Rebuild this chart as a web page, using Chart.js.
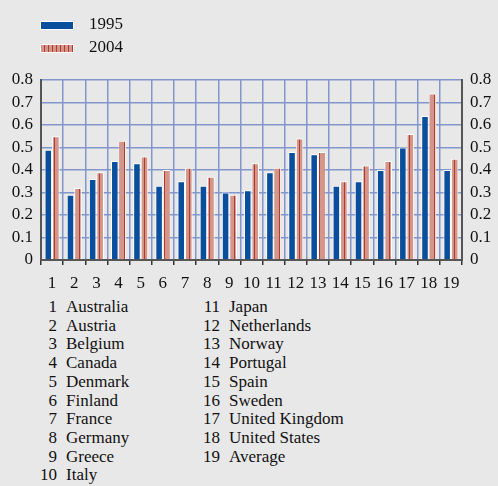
<!DOCTYPE html>
<html>
<head>
<meta charset="utf-8">
<script src="https://cdn.jsdelivr.net/npm/chart.js@4"></script>
<style>
  body { margin: 0; background: #e8e8e8; font-family: 'Liberation Serif', 'DejaVu Serif', serif; color: #111; }
  #wrap { position: relative; width: 498px; height: 486px; }
  #chartBox { position: absolute; left: 0; top: 0; width: 498px; height: 292px; }
  .leg { position: absolute; left: 40px; font-size: 17px; }
  .leg span { display: inline-block; width: 32px; height: 7px; margin-right: 15px; vertical-align: middle; border: 1px solid #fff; }
  .names { position: absolute; top: 298px; font-size: 17px; line-height: 18.7px; }
  .names div { white-space: nowrap; }
  .names b { font-weight: normal; display: inline-block; text-align: right; margin-right: 9px; }
</style>
</head>
<body>
<div id="wrap">
  <div id="chartBox"><canvas id="chart"></canvas></div>
  <div class="leg" style="top:14px"><span style="background:#0a4f9e"></span>1995</div>
  <div class="leg" style="top:37px"><span id="sw2004"></span>2004</div>
  <div class="names" id="col1" style="left:39px"></div>
  <div class="names" id="col2" style="left:200px"></div>
</div>
<script>
// Anteil je Land, 1995 und 2004
const labels = ['1','2','3','4','5','6','7','8','9','10','11','12','13','14','15','16','17','18','19'];
const countries = ['Australia','Austria','Belgium','Canada','Denmark','Finland','France','Germany','Greece','Italy',
  'Japan','Netherlands','Norway','Portugal','Spain','Sweden','United Kingdom','United States','Average'];
const values1995 = [0.49,0.29,0.36,0.44,0.43,0.33,0.35,0.33,0.30,0.31,0.39,0.48,0.47,0.33,0.35,0.40,0.50,0.64,0.40];
const values2004 = [0.55,0.32,0.39,0.53,0.46,0.40,0.41,0.37,0.29,0.43,0.41,0.54,0.48,0.35,0.42,0.44,0.56,0.74,0.45];

// gestreiftes Muster fuer 2004
function stripes() {
  const c = document.createElement('canvas');
  c.width = 5; c.height = 4;
  const g = c.getContext('2d');
  g.fillStyle = '#d3968a';
  g.fillRect(0, 0, 5, 4);
  g.fillStyle = '#b33a2e';
  g.fillRect(4, 0, 1, 4);
  return g.createPattern(c, 'repeat');
}
const pat = stripes();
document.getElementById('sw2004').style.background =
  'repeating-linear-gradient(90deg, #d3968a 0 3px, #b33a2e 3px 4px)';

// Laenderliste unten
countries.forEach((name, i) => {
  const col = document.getElementById(i < 10 ? 'col1' : 'col2');
  const d = document.createElement('div');
  d.innerHTML = '<b style="width:' + (i < 10 ? 18 : 20) + 'px">' + (i + 1) + '</b>' + name;
  col.appendChild(d);
});

const font = { family: "'Liberation Serif', 'DejaVu Serif', serif", size: 17 };
const yTicks = { stepSize: 0.1, autoSkip: false, color: '#111', font: font, padding: 8,
  callback: v => Math.round(v * 10) / 10 };

new Chart(document.getElementById('chart'), {
  type: 'bar',
  data: {
    labels: labels,
    datasets: [{
      label: '1995',
      data: values1995,
      backgroundColor: '#0a4f9e',
      borderColor: '#ffffff',
      borderWidth: 1,
      borderSkipped: 'bottom'
    }, {
      label: '2004',
      data: values2004,
      backgroundColor: pat,
      borderColor: '#ffffff',
      borderWidth: 1,
      borderSkipped: 'bottom'
    }]
  },
  options: {
    responsive: true,
    maintainAspectRatio: false,
    animation: false,
    categoryPercentage: 0.68,
    barPercentage: 1,
    layout: { padding: { top: 80 } },
    plugins: { legend: { display: false }, tooltip: { enabled: false } },
    scales: {
      x: {
        grid: { color: '#8296cc', lineWidth: 1.5, tickColor: '#333', tickLength: 5, offset: true },
        border: { color: '#555', width: 2 },
        ticks: { autoSkip: false, maxRotation: 0, minRotation: 0, color: '#111', font: font, padding: 8 },
        afterFit: s => { s.height = 32; }
      },
      y: {
        min: 0, max: 0.8,
        position: 'left',
        grid: { color: '#8296cc', lineWidth: 1.5, drawTicks: false },
        border: { color: '#555', width: 2 },
        ticks: yTicks,
        afterFit: s => { s.width = 41; }
      },
      y2: {
        min: 0, max: 0.8,
        position: 'right',
        grid: { drawOnChartArea: false, drawTicks: false },
        border: { color: '#555', width: 2 },
        ticks: yTicks,
        afterFit: s => { s.width = 36; }
      }
    }
  }
});
</script>
</body>
</html>
